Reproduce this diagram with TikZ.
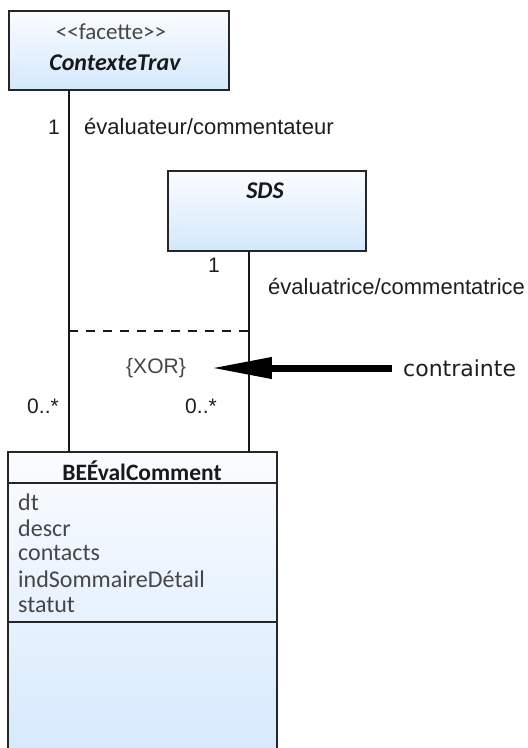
\documentclass[tikz,border=0pt]{standalone}
\usepackage{fontspec}
\setmainfont{Liberation Sans}
\newfontfamily\carl{Carlito}
\newfontfamily\dvs{DejaVu Sans}
\usetikzlibrary{arrows.meta}
\definecolor{boxtop}{RGB}{250,252,255}
\definecolor{boxbot}{RGB}{212,232,252}
\definecolor{txtdark}{RGB}{30,30,30}
\definecolor{txtgrey}{RGB}{70,70,70}
\tikzset{
  classbox/.style={draw=black!85, line width=1.8pt, top color=boxtop, bottom color=boxbot, inner sep=0pt, outer sep=0pt},
  assoc/.style={draw=black!90, line width=1.4pt},
  lbl/.style={inner sep=0pt, font=\fontsize{22}{26}\selectfont, text=txtdark},
  cname/.style={inner sep=0pt, font=\carl\bfseries\itshape\fontsize{24}{28}\selectfont, text=black!90},
  stereo/.style={inner sep=0pt, font=\carl\fontsize{23}{27}\selectfont, text=txtgrey},
  attr/.style={inner sep=0pt, anchor=west, font=\carl\fontsize{24}{28}\selectfont, text=txtgrey},
  mult/.style={inner sep=0pt, font=\fontsize{21}{25}\selectfont, text=txtdark},
  bigarrow/.style={line width=7pt, -{Triangle[length=61pt,width=20pt]}}
}
\begin{document}
\begin{tikzpicture}[x=1pt,y=-1pt]
\useasboundingbox (0,0) rectangle (528,748);
\begin{scope}
\clip (0,0) rectangle (528,748);
% classes
\node[classbox, minimum width=220pt, minimum height=79pt] (ctx) at (119,50.5) {};
\node[stereo] (ctxst) at (111,32) {<<facette>>};
\node[cname] (ctxname) at (115,63) {ContexteTrav};

\node[classbox, minimum width=198pt, minimum height=80pt] (sds) at (267,211) {};
\node[cname] (sdsname) at (265,191) {SDS};

\node[classbox, minimum width=269pt, minimum height=320pt] (bee) at (142.5,612) {};
\draw[draw=black!85, line width=1.8pt] (8,483) -- (277,483);
\draw[draw=black!85, line width=1.8pt] (8,622) -- (277,622);
\node[cname, font=\carl\bfseries\fontsize{23.5}{27}\selectfont] (beename) at (142,471) {BEÉvalComment};
\node[attr] (a1) at (18,502) {dt};
\node[attr] (a2) at (18,528) {descr};
\node[attr] (a3) at (18,553) {contacts};
\node[attr] (a4) at (18,579) {indSommaireDétail};
\node[attr] (a5) at (18,605) {statut};

% associations
\coordinate (lx) at (69,0);
\coordinate (rx) at (249,0);
\draw[assoc] (lx |- ctx.south) -- (lx |- bee.north);
\draw[assoc] (rx |- sds.south) -- (rx |- bee.north);
\coordinate (dl) at (69,331);
\coordinate (dr) at (249,331);
\draw[assoc, line width=1.2pt, dash pattern=on 9pt off 8pt] (dl) -- (dr);

% labels
\node[mult] (m1) at (54,127) {1};
\node[lbl, anchor=west] (r1) at (84,127) {évaluateur/commentateur};
\node[mult] (m2) at (214,265) {1};
\node[lbl, anchor=west] (r2) at (268,287) {évaluatrice/commentatrice};
\node[mult] (m3) at (43,406) {0..*};
\node[mult] (m4) at (201,406) {0..*};

% constraint
\node[inner sep=0pt, font=\fontsize{21}{25}\selectfont, text=txtgrey] (xor) at (156,368) {\{XOR\}};
\node[inner sep=0pt, anchor=west, font=\dvs\fontsize{22}{26}\selectfont, text=txtdark] (contr) at (403,368) {contrainte};
\draw[bigarrow, shorten <=11pt, shorten >=25pt] (contr.west |- xor.east) -- (xor.east);
\end{scope}
\end{tikzpicture}
\end{document}
